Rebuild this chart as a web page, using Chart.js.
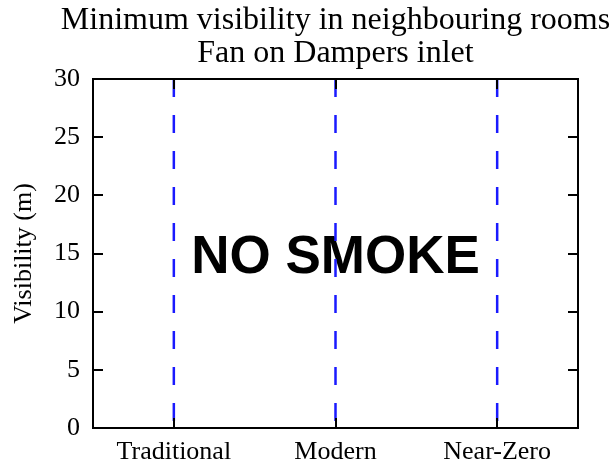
<!DOCTYPE html>
<html>
<head>
<meta charset="utf-8">
<script src="https://cdn.jsdelivr.net/npm/chart.js@4.4.1/dist/chart.umd.min.js"></script>
<style>
  html, body { margin: 0; padding: 0; background: #fff; }
  #wrap { width: 613px; height: 464px; }
</style>
</head>
<body>
<div id="wrap"><canvas id="chart-visibility"></canvas></div>
<script>
// Scenarios and visibility range (m) marked for each one
const categories = ['Traditional', 'Modern', 'Near-Zero'];
const visibilityTop = [30, 30, 30];
const visibilityBottom = [0, 0, 0];
const yTicks = [0, 5, 10, 15, 20, 25, 30];

const titleLines = ['Minimum visibility in neighbouring rooms', 'Fan on Dampers inlet'];

// Overlay note, placed in data coordinates
const noteText = 'NO SMOKE';
const noteCategory = 'Modern';
const noteValue = 15;

const SERIF = '"Liberation Serif", "DejaVu Serif", serif';

/**
 * Title centred over the plot area rather than the canvas
 */
const titlePlugin = {
  id: 'axesTitle',
  afterDraw(chart) {
    const { ctx, chartArea: a } = chart;
    const cx = (a.left + a.right) / 2;
    ctx.save();
    ctx.font = '32px ' + SERIF;
    ctx.fillStyle = '#000';
    ctx.textAlign = 'center';
    ctx.textBaseline = 'alphabetic';
    titleLines.forEach((t, i) => ctx.fillText(t, cx, 29 + i * 33));
    ctx.restore();
  }
};

/**
 * Draw the note behind the dashed lines
 */
const notePlugin = {
  id: 'note',
  beforeDatasetsDraw(chart) {
    const { ctx, scales } = chart;
    const size = 53;
    const x = scales.x.getPixelForValue(categories.indexOf(noteCategory));
    const y = scales.y.getPixelForValue(noteValue);
    ctx.save();
    ctx.font = 'bold ' + size + 'px "Liberation Sans", Arial, sans-serif';
    ctx.fillStyle = '#000';
    ctx.textAlign = 'center';
    ctx.textBaseline = 'alphabetic';
    ctx.fillText(noteText, x, y + size * 0.37);
    ctx.restore();
  }
};

/**
 * Box frame with inward ticks on all four sides
 */
const framePlugin = {
  id: 'frame',
  afterDatasetsDraw(chart) {
    const { ctx, chartArea: a, scales } = chart;
    const len = 10;
    ctx.save();
    ctx.strokeStyle = '#000';
    ctx.lineWidth = 2;
    ctx.strokeRect(a.left, a.top, a.right - a.left, a.bottom - a.top);
    ctx.beginPath();
    yTicks.forEach(v => {
      const y = Math.round(scales.y.getPixelForValue(v));
      ctx.moveTo(a.left, y);
      ctx.lineTo(a.left + len, y);
      ctx.moveTo(a.right, y);
      ctx.lineTo(a.right - len, y);
    });
    categories.forEach((c, i) => {
      const x = Math.round(scales.x.getPixelForValue(i));
      ctx.moveTo(x, a.bottom);
      ctx.lineTo(x, a.bottom - len);
      ctx.moveTo(x, a.top);
      ctx.lineTo(x, a.top + len);
    });
    ctx.stroke();
    ctx.restore();
  }
};

const datasets = categories.map((c, i) => ({
  label: c,
  data: [
    { x: c, y: visibilityTop[i] },
    { x: c, y: visibilityBottom[i] }
  ],
  borderColor: '#1a1aff',
  borderWidth: 2.5,
  borderDash: [18, 18],
  pointRadius: 0,
  fill: false
}));

new Chart(document.getElementById('chart-visibility'), {
  type: 'line',
  data: { labels: categories, datasets },
  plugins: [notePlugin, framePlugin, titlePlugin],
  options: {
    responsive: true,
    maintainAspectRatio: false,
    animation: false,
    layout: { padding: { left: 0, right: 35, top: 79, bottom: 0 } },
    plugins: {
      legend: { display: false },
      tooltip: { enabled: false },
      title: { display: false }
    },
    scales: {
      x: {
        type: 'category',
        offset: true,
        grid: { display: false, drawTicks: false },
        border: { display: false },
        ticks: {
          color: '#000',
          padding: 9,
          font: { family: SERIF, size: 26 }
        },
        afterFit: s => { s.height = 36; }
      },
      y: {
        min: 0,
        max: 30,
        grid: { display: false, drawTicks: false },
        border: { display: false },
        ticks: {
          stepSize: 5,
          color: '#000',
          padding: 13,
          font: { family: SERIF, size: 26 }
        },
        title: {
          display: true,
          text: 'Visibility (m)',
          color: '#000',
          font: { family: SERIF, size: 26 },
          padding: { top: 9, bottom: 0 }
        },
        afterFit: s => { s.width = 93; }
      }
    }
  }
});
</script>
</body>
</html>
